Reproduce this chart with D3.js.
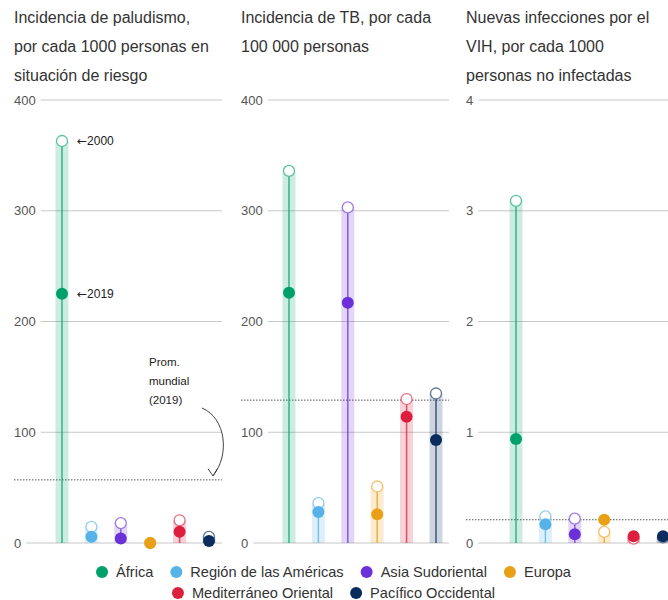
<!DOCTYPE html>
<html><head><meta charset="utf-8">
<script src="https://cdn.jsdelivr.net/npm/d3@7"></script>
<style>
body{margin:0;background:#fff;}
svg{font-family:"Liberation Sans",Arial,Helvetica,sans-serif;}
</style></head>
<body><svg id="c" width="668" height="600"></svg>
<script>
const regions = ["África","Región de las Américas","Asia Sudoriental","Europa","Mediterráneo Oriental","Pacífico Occidental"];
const colors = ["#00a06b","#57b2e8","#6b30d8","#e9a016","#dc1f3c","#0b2c5e"];
const titles = [
  ["Incidencia de paludismo,","por cada 1000 personas en","situación de riesgo"],
  ["Incidencia de TB, por cada","100 000 personas"],
  ["Nuevas infecciones por el","VIH, por cada 1000","personas no infectadas"]
];
const malaria2000 = [363, 14.5, 18, 0, 20.5, 5.5];
const malaria2019 = [225, 5.7, 4, 0, 10.2, 1.8];
const tb2000 = [336, 36, 303, 51, 130, 135];
const tb2019 = [226, 28, 217, 26, 114, 93];
const hiv2000 = [3.09, 0.24, 0.22, 0.10, 0.04, 0.05];
const hiv2019 = [0.94, 0.17, 0.08, 0.21, 0.06, 0.06];
const globalAvg = [57, 129, 0.21];
const ticks1 = [0,100,200,300,400];
const ticks2 = [0,100,200,300,400];
const ticks3 = [0,1,2,3,4];
const domainsMax = [400, 400, 4];

const panels = [
  {v00: malaria2000, v19: malaria2019, ticks: ticks1},
  {v00: tb2000, v19: tb2019, ticks: ticks2},
  {v00: hiv2000, v19: hiv2019, ticks: ticks3}
];
const svg = d3.select("#c");
const panelX = [14, 241, 466];
const xStart = [48, 48, 50];
const panelW = 208;

panels.forEach((p, i) => {
  const g = svg.append("g").attr("transform", `translate(${panelX[i]},0)`);
  titles[i].forEach((t, j) => {
    g.append("text").attr("x", 0).attr("y", 23 + j * 29).attr("font-size", 16).attr("fill", "#333").text(t);
  });
  const y = d3.scaleLinear().domain([0, domainsMax[i]]).range([543, 100]);
  const x = d3.scalePoint().domain(regions).range([xStart[i], xStart[i] + 147]);
  const right = i === 2 ? 230 : panelW;
  p.ticks.forEach(t => {
    const lab = g.append("text").attr("x", 0).attr("y", y(t) + 4.5).attr("font-size", 13).attr("fill", "#555").text(t);
    const w = lab.node().getComputedTextLength();
    g.append("line").attr("x1", w + 5).attr("x2", right).attr("y1", y(t)).attr("y2", y(t))
      .attr("stroke", "#c8c8c8").attr("stroke-width", 1);
  });
  g.append("line").attr("x1", 0).attr("x2", right).attr("y1", y(globalAvg[i])).attr("y2", y(globalAvg[i]))
    .attr("stroke", "#555").attr("stroke-width", 1).attr("stroke-dasharray", "1.5,1.5");
  regions.forEach((r, k) => {
    const cx = x(r), c = colors[k];
    g.append("rect").attr("x", cx - 6.5).attr("width", 13).attr("y", y(p.v00[k])).attr("height", y(0) - y(p.v00[k]))
      .attr("fill", c).attr("opacity", 0.2);
    g.append("line").attr("x1", cx).attr("x2", cx).attr("y1", y(0)).attr("y2", y(p.v00[k]))
      .attr("stroke", c).attr("stroke-width", 1.5).attr("opacity", 0.75);
    g.append("circle").attr("cx", cx).attr("cy", y(p.v00[k])).attr("r", 5.5)
      .attr("fill", "#fff").attr("stroke", d3.interpolateRgb(c, "#fff")(0.35)).attr("stroke-width", 1.3);
    g.append("circle").attr("cx", cx).attr("cy", y(p.v19[k])).attr("r", 6).attr("fill", c);
  });
  if (i === 0) {
    const ax = x(regions[0]) + 15;
    [["2000", p.v00[0]], ["2019", p.v19[0]]].forEach(([lbl, v]) => {
      const t = g.append("text").attr("x", ax).attr("y", y(v) + 4.5).attr("font-size", 12).attr("fill", "#222");
      t.append("tspan").attr("font-family", "DejaVu Sans").attr("font-size", 12).text("←");
      t.append("tspan").attr("font-weight", 500).text(lbl);
    });
    ["Prom.","mundial","(2019)"].forEach((t, j) => {
      g.append("text").attr("x", 135).attr("y", 366 + j * 19).attr("font-size", 11.5).attr("fill", "#222").text(t);
    });
    const ya = y(globalAvg[0]);
    g.append("path").attr("d", `M188,408 C212,418 216,455 199,${ya - 4}`)
      .attr("fill", "none").attr("stroke", "#444").attr("stroke-width", 1);
    g.append("path").attr("d", `M194,${ya - 11} L199,${ya - 4} L203.5,${ya - 11.5}`)
      .attr("fill", "none").attr("stroke", "#444").attr("stroke-width", 1);
  }
});

// legend
const legendRows = [[0,1,2,3],[4,5]];
const rowY = [572, 593];
const lfs = 14.6;
legendRows.forEach((row, ri) => {
  const items = row.map(k => ({k, w: 0}));
  const tmp = svg.append("g");
  items.forEach(it => {
    const t = tmp.append("text").attr("font-size", lfs).text(regions[it.k]);
    it.w = t.node().getComputedTextLength();
  });
  tmp.remove();
  const gap = 22;
  const total = d3.sum(items, it => 15 + it.w) + gap * (items.length - 1);
  let xx = 336 - total / 2;
  items.forEach(it => {
    svg.append("circle").attr("cx", xx + 1).attr("cy", rowY[ri]).attr("r", 6).attr("fill", colors[it.k]);
    svg.append("text").attr("x", xx + 15).attr("y", rowY[ri] + 5).attr("font-size", lfs).attr("fill", "#333").text(regions[it.k]);
    xx += 15 + it.w + gap;
  });
});
</script></body></html>
